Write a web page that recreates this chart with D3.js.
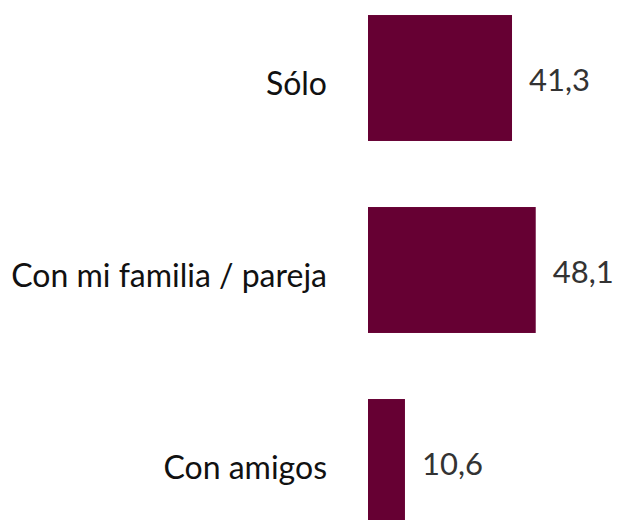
<!DOCTYPE html>
<html>
<head>
<meta charset="utf-8">
<script src="https://cdn.jsdelivr.net/npm/d3@7"></script>
<style>
  body { margin: 0; background: #fff; }
  text { font-family: Lato, "Open Sans", sans-serif; }
</style>
</head>
<body>
<svg id="chart"></svg>
<script>
const categories = ['Sólo', 'Con mi familia / pareja', 'Con amigos']
const values = [41.3, 48.1, 10.6]
const valueLabels = ['41,3', '48,1', '10,6']

const width = 620, height = 520
const svg = d3.select('#chart').attr('width', width).attr('height', height)

let x = d3.scaleLinear().domain([0, 50]).range([368, 368 + 50 * 3.487])
let y = d3.scaleBand().domain(categories).range([-18, 558]).paddingInner(0.344).paddingOuter(0.172)

let rows = categories.map((c, i) => ({c: c, v: values[i], label: valueLabels[i]}))

svg.selectAll('rect.bar')
  .data(rows)
  .join('rect')
  .attr('class', 'bar')
  .attr('x', x(0))
  .attr('y', d => y(d.c))
  .attr('width', d => x(d.v) - x(0))
  .attr('height', y.bandwidth())
  .attr('fill', '#660033')

svg.selectAll('text.cat')
  .data(rows)
  .join('text')
  .attr('class', 'cat')
  .attr('x', 327)
  .attr('y', d => y(d.c) + y.bandwidth() / 2 + 6)
  .attr('dy', '0.35em')
  .attr('text-anchor', 'end')
  .attr('font-size', 32)
  .attr('fill', '#111')
  .text(d => d.c)

svg.selectAll('text.val')
  .data(rows)
  .join('text')
  .attr('class', 'val')
  .attr('x', d => x(d.v) + 17)
  .attr('y', d => y(d.c) + y.bandwidth() / 2 + 2)
  .attr('dy', '0.35em')
  .attr('font-size', 31)
  .attr('fill', '#333')
  .text(d => d.label)
</script>
</body>
</html>
